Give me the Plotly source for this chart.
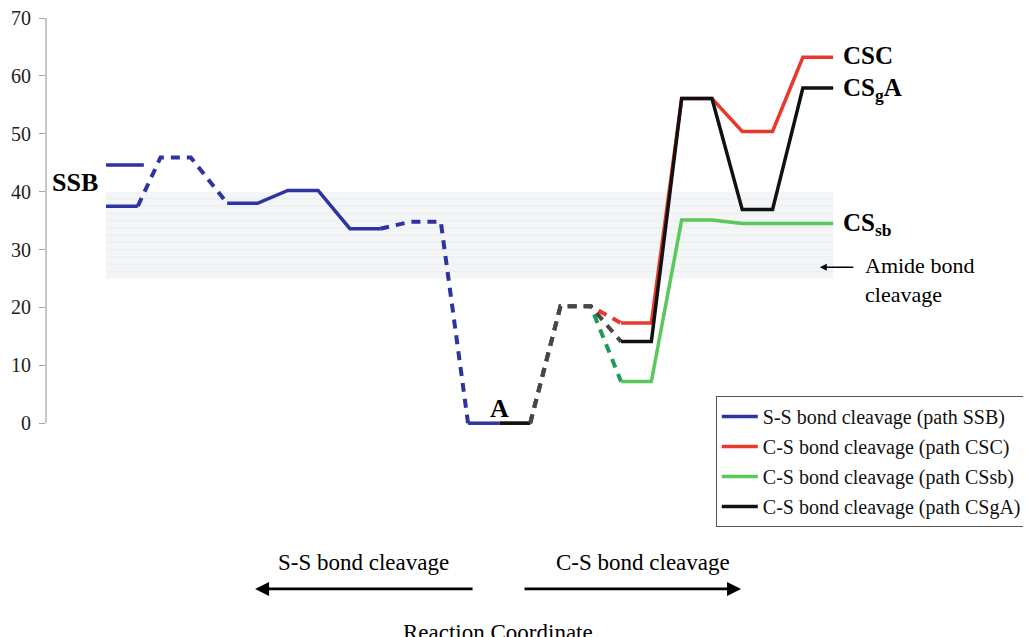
import plotly.graph_objects as go

# ---------------- data ----------------
# Reaction coordinate positions (arbitrary units) and relative energies (kcal/mol)
ssb_x = [0, 1.05, 1.8, 2.8, 4.0, 5.0, 6.0, 7.0, 8.05, 9.05, 10.05, 11.05, 11.95, 13.0]
ssb_y = [37.5, 37.5, 45.9, 45.9, 38.0, 38.0, 40.2, 40.2, 33.6, 33.6, 34.8, 34.8, 0.0, 0.0]
ssb_seg = ["solid", "dash", "dash", "dash", "solid", "solid", "solid", "solid", "solid",
           "dash", "dash", "dash", "solid"]
ssb_alt_x = [0, 1.25]
ssb_alt_y = [44.6, 44.6]

cs_x = [13.0, 14.0, 15.0, 16.0, 17.0, 18.0, 19.0, 20.0, 21.0, 22.0, 23.0, 24.0]
csc_y = [0.0, 0.0, 20.2, 20.2, 17.3, 17.3, 56.1, 56.1, 50.4, 50.4, 63.2, 63.2]
cssb_y = [0.0, 0.0, 20.2, 20.2, 7.2, 7.2, 35.1, 35.1, 34.5, 34.5, 34.5, 34.5]
csga_y = [0.0, 0.0, 20.2, 20.2, 14.1, 14.1, 56.1, 56.1, 36.9, 36.9, 57.9, 57.9]
cs_seg = ["solid", "dash", "dash", "dash", "solid", "solid", "solid", "solid", "solid",
          "solid", "solid"]

amide_band = [25, 40]          # energy window of amide bond cleavage
band_x = [0, 24]

legend_names = ["S-S bond cleavage (path SSB)", "C-S bond cleavage (path CSC)",
                "C-S bond cleavage (path CSsb)", "C-S bond cleavage (path CSgA)"]
y_ticks = [0, 10, 20, 30, 40, 50, 60, 70]

# ---------------- styling ----------------
SERIF = "Liberation Serif, Times New Roman, serif"
colors = {"ssb": ("#2d33a0", "#2d33a0"),
          "csc": ("#e8392b", "#e8392b"),
          "cssb": ("#5ac85a", "#1f9a58"),
          "csga": ("#111111", "#474747")}

fig = go.Figure()


def add_path(x, y, seg, key, name, group):
    solid_c, dash_c = colors[key]
    runs = []
    start = 0
    for i in range(1, len(seg) + 1):
        if i == len(seg) or seg[i] != seg[start]:
            runs.append((start, i, seg[start]))
            start = i
    first = True
    for a, b, style in runs:
        fig.add_trace(go.Scatter(
            x=x[a:b + 1], y=y[a:b + 1], mode="lines",
            line=dict(color=solid_c if style == "solid" else dash_c,
                      width=3.5 if style == "solid" else 4,
                      dash="solid" if style == "solid" else "9px,7px"),
            name=name, legendgroup=group,
            showlegend=(first and style == "solid"), hoverinfo="skip"))
        if style == "solid":
            first = False


# SSB alternate level
fig.add_trace(go.Scatter(x=ssb_alt_x, y=ssb_alt_y, mode="lines",
                         line=dict(color=colors["ssb"][0], width=3.5),
                         showlegend=False, legendgroup="g1", hoverinfo="skip"))
add_path(ssb_x, ssb_y, ssb_seg, "ssb", legend_names[0], "g1")
add_path(cs_x, csc_y, cs_seg, "csc", legend_names[1], "g2")
add_path(cs_x, cssb_y, cs_seg, "cssb", legend_names[2], "g3")
add_path(cs_x, csga_y, cs_seg, "csga", legend_names[3], "g4")

# ---------------- shapes ----------------
shapes = [dict(type="rect", xref="x", yref="y", x0=band_x[0], x1=band_x[1],
               y0=amide_band[0], y1=amide_band[1], fillcolor="#f3f5f6",
               line=dict(width=0), layer="below")]
yy = amide_band[0] + 1.25
while yy < amide_band[1]:
    shapes.append(dict(type="line", xref="x", yref="y", x0=band_x[0], x1=band_x[1],
                       y0=yy, y1=yy, line=dict(color="#eaedef", width=1), layer="below"))
    yy += 1.25
# y axis line (only spans 0..70)
shapes.append(dict(type="line", xref="paper", yref="y", x0=0, x1=0, y0=0, y1=70,
                   line=dict(color="#b3b3b3", width=1.5)))

# ---------------- annotations ----------------
ann = []
def label(x, y, text, size=26, xanchor="center", yanchor="middle", xref="x", yref="y", bold=True, align="center"):
    ann.append(dict(x=x, y=y, xref=xref, yref=yref, text=f"<b>{text}</b>" if bold else text,
                    showarrow=False, xanchor=xanchor, yanchor=yanchor, align=align,
                    font=dict(family=SERIF, size=size, color="#000")))

label(-1.02, 41.6, "SSB")
label(13.0, 2.6, "A")
label(24.25, 63.5, "CSC", size=25, xanchor="left")
label(24.25, 57.6, "CS<sub>g</sub>A", size=25, xanchor="left")
label(24.25, 34.3, "CS<sub>sb</sub>", size=25, xanchor="left")
label(25.0, 24.8, "Amide bond<br>cleavage", size=22, xanchor="left", bold=False, align="left")
# amide arrow
ann.append(dict(x=23.56, y=26.95, xref="x", yref="y", text="", showarrow=True,
                ax=35, ay=0, arrowhead=2, arrowsize=1, arrowwidth=1.4, arrowcolor="#000"))

# bottom labels
label(8.5, -0.325, "S-S bond cleavage", size=23, yref="paper", bold=False)
label(17.72, -0.325, "C-S bond cleavage", size=23, yref="paper", bold=False)
label(12.94, -0.494, "Reaction Coordinate", size=23, yref="paper", bold=False)
ann.append(dict(x=4.92, y=-0.389, xref="x", yref="paper", text="", showarrow=True,
                ax=219, ay=0, arrowhead=2, arrowsize=1, arrowwidth=2.8, arrowcolor="#000"))
ann.append(dict(x=20.96, y=-0.389, xref="x", yref="paper", text="", showarrow=True,
                ax=-218, ay=0, arrowhead=2, arrowsize=1, arrowwidth=2.8, arrowcolor="#000"))

# page has an 8px body margin, so the figure is drawn 8px smaller and shifted
fig.update_layout(
    width=1023, height=629,
    margin=dict(l=38, r=0, t=10, b=208),
    paper_bgcolor="white", plot_bgcolor="white",
    xaxis=dict(range=[-1.98, 30.53], visible=False),
    yaxis=dict(range=[-1, 70], tickvals=y_ticks, ticks="outside", ticklen=6,
               tickcolor="#a8a8a8", tickwidth=1.2, showgrid=False, zeroline=False,
               showline=False, ticklabelstandoff=4, ticklabeloverflow="allow",
               tickfont=dict(family=SERIF, size=20, color="#222")),
    legend=dict(x=0.68, y=0.08, xanchor="left", yanchor="top",
                bgcolor="white", bordercolor="#555", borderwidth=1,
                font=dict(family=SERIF, size=20, color="#111"),
                tracegroupgap=1, itemwidth=36),
    shapes=shapes, annotations=ann,
)

fig.write_html("out.html")
